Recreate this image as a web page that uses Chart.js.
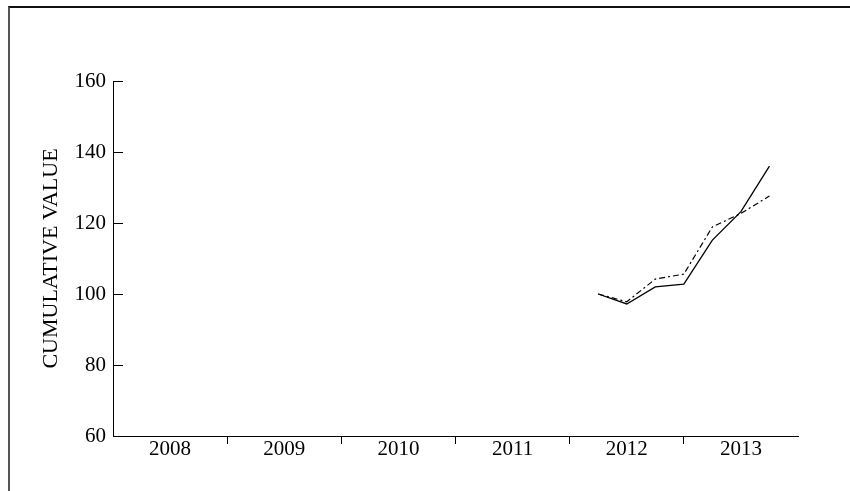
<!DOCTYPE html>
<html>
<head>
<meta charset="utf-8">
<script src="https://cdn.jsdelivr.net/npm/chart.js@4/dist/chart.umd.min.js"></script>
<style>
  html, body { margin: 0; padding: 0; background: #fff; }
  #wrap { position: relative; width: 850px; height: 491px; }
  #frame {
    position: absolute; left: 8px; top: 6px; right: 0; bottom: 0;
    border-top: 2px solid #111; border-left: 2px solid #555;
    pointer-events: none;
  }
  canvas { position: absolute; left: 0; top: 0; }
</style>
</head>
<body>
<div id="wrap">
  <canvas id="chart" width="850" height="491"></canvas>
  <div id="frame"></div>
</div>
<script>
// Year categories along the x axis
const years = [2008, 2009, 2010, 2011, 2012, 2013];
// Quarterly positions (fractional years) where both series are sampled
const quarters = [2012.25, 2012.5, 2012.75, 2013.0, 2013.25, 2013.5, 2013.75];
// Cumulative value series
const seriesSolid  = [100, 97.2, 102.0, 102.8, 115.2, 123.2, 136.0];
const seriesDashed = [100, 97.8, 104.2, 105.6, 118.9, 122.7, 127.6];
// Value axis ticks
const yTicks = [60, 80, 100, 120, 140, 160];

const toPoints = vals => vals.map((v, i) => ({ x: quarters[i], y: v }));
const serif = "'Liberation Serif', 'DejaVu Serif', serif";

new Chart(document.getElementById('chart'), {
  type: 'line',
  data: {
    datasets: [
      {
        data: toPoints(seriesSolid),
        borderColor: '#000', borderWidth: 1.3,
        pointRadius: 0, tension: 0, fill: false
      },
      {
        data: toPoints(seriesDashed),
        borderColor: '#000', borderWidth: 1.2,
        borderDash: [6, 3, 2, 3],
        pointRadius: 0, tension: 0, fill: false
      }
    ]
  },
  options: {
    responsive: false,
    animation: false,
    layout: { padding: { left: 38, right: 52, top: 81, bottom: 14 } },
    plugins: { legend: { display: false }, tooltip: { enabled: false } },
    scales: {
      x: {
        type: 'linear',
        min: years[0],
        max: years[years.length - 1] + 1,
        afterBuildTicks: s => { s.ticks = years.map(y => ({ value: y + 0.5 })); },
        afterFit: s => { s.height = 41; },
        border: { display: true, color: '#000', width: 1 },
        grid: {
          offset: true,
          drawOnChartArea: false,
          drawTicks: true,
          tickLength: 8,
          lineWidth: 1,
          color: ctx => (ctx.index >= 1 && ctx.index <= years.length - 1) ? '#000' : 'rgba(0,0,0,0)'
        },
        ticks: {
          autoSkip: false,
          maxRotation: 0,
          padding: -7,
          color: '#000',
          font: { family: serif, size: 21 },
          callback: v => String(Math.floor(v))
        }
      },
      y: {
        min: 60,
        max: 160,
        afterBuildTicks: s => { s.ticks = yTicks.map(v => ({ value: v })); },
        afterFit: s => { s.width = 75; },
        border: { display: true, color: '#000', width: 1 },
        grid: {
          drawOnChartArea: false,
          drawTicks: true,
          tickLength: -10,
          color: '#000'
        },
        ticks: {
          padding: 17,
          color: '#000',
          font: { family: serif, size: 21 }
        },
        title: {
          display: true,
          text: 'CUMULATIVE VALUE',
          color: '#000',
          padding: 0,
          font: { family: serif, size: 22, weight: 'normal' }
        }
      }
    }
  }
});
</script>
</body>
</html>
